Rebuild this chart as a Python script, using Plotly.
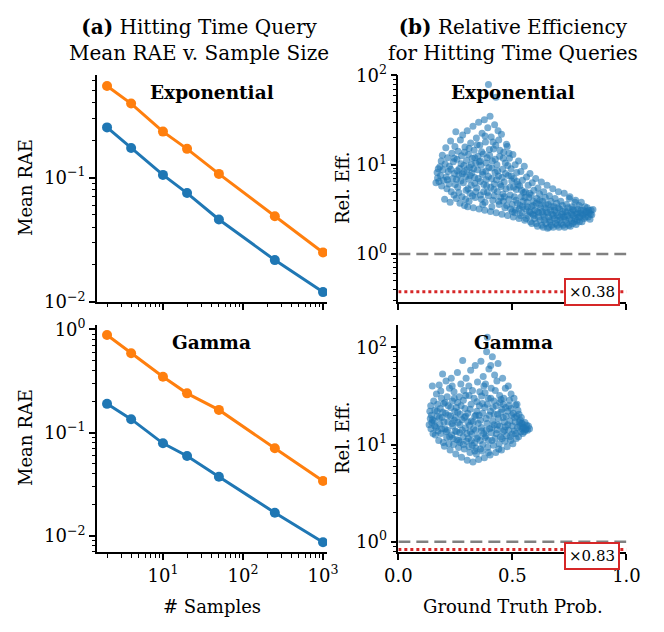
import math
import plotly.graph_objects as go
from plotly.subplots import make_subplots

# -----------------------------
# Data
# -----------------------------
samples = [2, 4, 10, 20, 50, 250, 1000]

exp_rae_blue = [0.253, 0.173, 0.105, 0.075, 0.046, 0.0217, 0.012]
exp_rae_orange = [0.545, 0.393, 0.234, 0.17, 0.107, 0.0488, 0.025]
gamma_rae_blue = [0.19, 0.135, 0.0788, 0.0594, 0.0374, 0.0168, 0.0087]
gamma_rae_orange = [0.88, 0.586, 0.348, 0.24, 0.166, 0.0705, 0.034]

exp_ratio = 0.38
gamma_ratio = 0.83

# (ground truth prob, relative efficiency)
exp_points = [
    (0.165, 6.3), (0.17, 8.2), (0.175, 9.0), (0.172, 7.1), (0.178, 6.5),
    (0.182, 9.5), (0.185, 7.6), (0.19, 5.8), (0.193, 12.8), (0.196, 8.8), (0.198, 6.7), (0.188, 11.0),
    (0.203, 4.1), (0.205, 10.2), (0.208, 15.5), (0.21, 7.3), (0.213, 5.4), (0.216, 12.0), (0.219, 8.4), (0.222, 6.1), (0.224, 9.6),
    (0.227, 3.8), (0.229, 18.5), (0.232, 5.0), (0.235, 13.5), (0.238, 7.0), (0.241, 10.8), (0.244, 4.6), (0.246, 8.0), (0.248, 16.0), (0.249, 6.0),
    (0.252, 23.5), (0.254, 4.2), (0.257, 11.5), (0.26, 5.6), (0.262, 14.2), (0.265, 7.7), (0.268, 9.1), (0.27, 3.7), (0.272, 19.0), (0.274, 6.6), (0.258, 8.6),
    (0.277, 12.6), (0.279, 4.4), (0.282, 21.5), (0.285, 6.3), (0.287, 9.8), (0.29, 3.5), (0.292, 15.8), (0.295, 7.4), (0.297, 5.2), (0.299, 11.2), (0.288, 8.3),
    (0.302, 24.0), (0.304, 3.4), (0.307, 13.0), (0.309, 6.9), (0.312, 9.4), (0.314, 4.8), (0.317, 17.5), (0.319, 5.9), (0.322, 8.1), (0.324, 11.8), (0.31, 3.9),
    (0.327, 27.0), (0.329, 3.3), (0.332, 14.5), (0.334, 7.2), (0.337, 4.3), (0.339, 10.5), (0.342, 20.0), (0.344, 5.5), (0.347, 8.8), (0.349, 12.5), (0.335, 6.2),
    (0.352, 30.0), (0.354, 3.2), (0.357, 16.5), (0.359, 6.5), (0.362, 9.9), (0.364, 4.1), (0.367, 22.5), (0.369, 7.8), (0.372, 13.2), (0.374, 5.0), (0.36, 11.0), (0.37, 3.6),
    (0.377, 32.0), (0.379, 3.1), (0.382, 18.0), (0.384, 8.5), (0.387, 5.8), (0.389, 12.0), (0.392, 26.0), (0.394, 4.5), (0.397, 9.3), (0.399, 14.8), (0.395, 79.0), (0.385, 6.8), (0.38, 3.8),
    (0.402, 35.0), (0.404, 3.0), (0.407, 20.5), (0.409, 7.0), (0.412, 11.0), (0.414, 4.0), (0.417, 15.0), (0.419, 5.3), (0.422, 28.0), (0.424, 8.2), (0.41, 3.4), (0.42, 6.1),
    (0.428, 57.0), (0.427, 16.5), (0.429, 2.9), (0.432, 10.0), (0.434, 5.0), (0.437, 24.0), (0.439, 7.5), (0.442, 3.6), (0.444, 12.5), (0.447, 6.0), (0.449, 4.3), (0.44, 19.0),
    (0.452, 22.0), (0.454, 2.8), (0.457, 8.9), (0.459, 4.7), (0.462, 13.8), (0.464, 6.4), (0.467, 3.3), (0.469, 10.5), (0.472, 5.4), (0.474, 17.0), (0.46, 3.9),
    (0.477, 16.0), (0.479, 2.7), (0.482, 7.6), (0.484, 4.1), (0.487, 11.8), (0.489, 5.6), (0.492, 3.2), (0.494, 9.0), (0.497, 6.6), (0.499, 3.6), (0.485, 13.5),
    (0.502, 13.0), (0.504, 2.6), (0.507, 7.0), (0.509, 4.4), (0.512, 10.0), (0.514, 3.1), (0.517, 5.3), (0.519, 8.2), (0.522, 3.7), (0.524, 6.0), (0.51, 2.9),
    (0.527, 11.0), (0.529, 2.5), (0.532, 5.8), (0.534, 3.5), (0.537, 8.4), (0.539, 4.4), (0.542, 2.9), (0.544, 6.7), (0.547, 3.9), (0.549, 4.9), (0.535, 2.7),
    (0.552, 9.6), (0.554, 2.4), (0.557, 5.0), (0.559, 3.2), (0.562, 7.3), (0.564, 3.8), (0.567, 2.7), (0.569, 5.9), (0.572, 4.3), (0.574, 3.0), (0.56, 2.5),
    (0.577, 8.0), (0.579, 2.3), (0.582, 4.6), (0.584, 3.4), (0.587, 6.3), (0.589, 2.8), (0.592, 3.9), (0.594, 5.2), (0.597, 2.5), (0.599, 3.1), (0.585, 2.2),
    (0.602, 7.0), (0.604, 2.2), (0.607, 4.2), (0.609, 3.0), (0.612, 5.5), (0.614, 2.6), (0.617, 3.6), (0.619, 4.7), (0.622, 2.4), (0.624, 3.3), (0.61, 2.05),
    (0.627, 6.4), (0.629, 2.1), (0.632, 3.9), (0.634, 2.8), (0.637, 5.0), (0.639, 2.4), (0.642, 3.3), (0.644, 4.3), (0.647, 2.2), (0.649, 3.0), (0.635, 2.0),
    (0.652, 5.9), (0.654, 1.95), (0.657, 3.6), (0.659, 2.6), (0.662, 4.5), (0.664, 2.3), (0.667, 3.1), (0.669, 3.9), (0.672, 2.1), (0.674, 2.8), (0.66, 2.0),
    (0.677, 5.4), (0.679, 2.0), (0.682, 3.4), (0.684, 2.5), (0.687, 4.2), (0.689, 2.2), (0.692, 2.9), (0.694, 3.7), (0.697, 2.1), (0.699, 2.7),
    (0.702, 5.0), (0.704, 2.0), (0.707, 3.2), (0.709, 2.4), (0.712, 3.9), (0.714, 2.2), (0.717, 2.8), (0.719, 3.5), (0.722, 2.1), (0.724, 2.6),
    (0.727, 4.8), (0.729, 2.0), (0.732, 3.0), (0.734, 2.4), (0.737, 3.6), (0.739, 2.2), (0.742, 2.7), (0.744, 3.3), (0.747, 2.1), (0.749, 4.2),
    (0.752, 4.4), (0.754, 2.05), (0.757, 2.9), (0.759, 2.4), (0.762, 3.4), (0.764, 2.2), (0.767, 2.7), (0.769, 3.1), (0.772, 2.3), (0.774, 3.8),
    (0.777, 4.0), (0.779, 2.15), (0.782, 2.8), (0.784, 2.4), (0.787, 3.2), (0.789, 2.6), (0.792, 3.5), (0.794, 2.3), (0.797, 2.9),
    (0.802, 3.8), (0.805, 2.3), (0.808, 2.7), (0.812, 3.1), (0.815, 2.5), (0.818, 3.4), (0.822, 2.9),
    (0.828, 3.3), (0.832, 2.6), (0.836, 2.9), (0.84, 2.45), (0.845, 3.1), (0.853, 3.15), (0.848, 2.75),
    # denser core
    (0.215, 6.8), (0.23, 8.9), (0.245, 11.8), (0.255, 6.9), (0.265, 4.9), (0.275, 10.3), (0.28, 7.9),
    (0.29, 13.8), (0.295, 4.1), (0.3, 8.8), (0.305, 5.4), (0.31, 15.2), (0.315, 7.6), (0.32, 10.1),
    (0.325, 4.5), (0.33, 9.0), (0.335, 12.0), (0.34, 5.0), (0.345, 16.8), (0.35, 7.0), (0.355, 10.8),
    (0.36, 4.6), (0.365, 14.0), (0.37, 8.3), (0.375, 6.0), (0.38, 21.0), (0.385, 10.5), (0.39, 4.9),
    (0.395, 7.4), (0.4, 12.8), (0.405, 5.6), (0.41, 9.2), (0.415, 18.0), (0.42, 4.5), (0.425, 11.5),
    (0.43, 6.8), (0.435, 8.5), (0.44, 3.9), (0.445, 14.5), (0.45, 5.7), (0.455, 7.2), (0.46, 11.8),
    (0.465, 4.4), (0.47, 8.0), (0.475, 3.5), (0.48, 9.8), (0.49, 4.6), (0.495, 7.5), (0.5, 3.0),
    (0.505, 5.6), (0.515, 4.0), (0.52, 6.5), (0.53, 3.2), (0.54, 5.2), (0.545, 3.4), (0.555, 4.3),
    (0.565, 3.4), (0.575, 4.8), (0.58, 2.9), (0.59, 3.5), (0.595, 2.7), (0.605, 3.7), (0.615, 2.9),
    (0.62, 4.0), (0.63, 3.0), (0.64, 2.6), (0.645, 3.6), (0.655, 2.9), (0.665, 2.4), (0.67, 3.4),
    (0.68, 2.7), (0.685, 3.1), (0.695, 2.4), (0.7, 3.3), (0.71, 2.6), (0.72, 3.0), (0.73, 2.6),
    (0.74, 3.0), (0.75, 2.5), (0.76, 2.8), (0.765, 3.2), (0.775, 2.5), (0.785, 2.9), (0.795, 2.6),
    (0.8, 3.1), (0.81, 2.8), (0.82, 2.6), (0.825, 3.0), (0.835, 3.1), (0.842, 2.8),
]

gamma_points = [
    (0.135, 16.0), (0.138, 22.0), (0.14, 18.5), (0.143, 14.5), (0.145, 20.0), (0.149, 40.0), (0.147, 16.8), (0.142, 25.0),
    (0.152, 13.0), (0.155, 28.0), (0.157, 17.5), (0.16, 22.5), (0.162, 12.5), (0.165, 15.0), (0.167, 33.0), (0.17, 19.5), (0.172, 26.0), (0.174, 13.8),
    (0.177, 11.0), (0.179, 41.0), (0.182, 16.2), (0.184, 23.5), (0.187, 13.0), (0.189, 30.0), (0.192, 19.0), (0.194, 53.0), (0.197, 10.5), (0.199, 26.5), (0.186, 35.5),
    (0.202, 9.6), (0.204, 14.5), (0.207, 21.0), (0.209, 45.0), (0.212, 11.8), (0.214, 31.0), (0.217, 17.0), (0.219, 25.0), (0.222, 10.2), (0.224, 38.0), (0.21, 13.5),
    (0.227, 8.8), (0.229, 19.5), (0.232, 48.0), (0.234, 12.5), (0.237, 28.0), (0.239, 15.5), (0.242, 10.0), (0.244, 35.0), (0.247, 22.0), (0.249, 13.8), (0.236, 40.0), (0.245, 17.8),
    (0.252, 8.0), (0.254, 24.0), (0.257, 11.2), (0.259, 55.0), (0.262, 16.8), (0.264, 9.3), (0.267, 31.0), (0.269, 13.2), (0.272, 20.5), (0.274, 42.0), (0.26, 27.0), (0.27, 10.5),
    (0.277, 7.4), (0.279, 18.0), (0.282, 73.0), (0.284, 12.0), (0.287, 36.0), (0.289, 9.0), (0.292, 23.5), (0.294, 14.8), (0.297, 48.0), (0.299, 10.8), (0.285, 28.5), (0.295, 19.5),
    (0.302, 6.9), (0.304, 21.0), (0.307, 11.5), (0.309, 40.0), (0.312, 15.8), (0.314, 8.3), (0.317, 58.0), (0.319, 26.0), (0.322, 12.8), (0.324, 9.8), (0.31, 32.0), (0.32, 17.5), (0.315, 13.5),
    (0.327, 6.6), (0.329, 17.0), (0.332, 30.0), (0.334, 10.4), (0.337, 65.0), (0.339, 14.0), (0.342, 8.0), (0.344, 22.0), (0.347, 44.0), (0.349, 12.0), (0.335, 19.5), (0.345, 27.5), (0.34, 9.2),
    (0.352, 7.0), (0.354, 20.0), (0.357, 35.0), (0.359, 11.0), (0.362, 72.0), (0.364, 15.0), (0.367, 8.6), (0.369, 26.5), (0.372, 50.0), (0.374, 13.0), (0.36, 17.8), (0.37, 10.0), (0.365, 31.5),
    (0.377, 7.3), (0.379, 24.0), (0.382, 42.0), (0.384, 12.2), (0.387, 90.0), (0.389, 16.5), (0.39, 127.0), (0.392, 9.4), (0.394, 30.0), (0.397, 60.0), (0.399, 20.0), (0.385, 14.0), (0.395, 11.0), (0.38, 34.0),
    (0.402, 7.8), (0.404, 22.0), (0.407, 38.0), (0.409, 13.2), (0.412, 80.0), (0.414, 17.5), (0.417, 9.8), (0.419, 28.0), (0.422, 52.0), (0.424, 11.5), (0.41, 15.0), (0.42, 20.5), (0.405, 65.0),
    (0.427, 8.3), (0.429, 25.0), (0.432, 45.0), (0.434, 14.2), (0.437, 68.0), (0.439, 18.5), (0.442, 10.2), (0.444, 32.0), (0.447, 12.0), (0.449, 21.5), (0.435, 16.0), (0.445, 27.0),
    (0.452, 8.8), (0.454, 23.0), (0.457, 48.0), (0.459, 13.5), (0.462, 30.0), (0.464, 17.0), (0.467, 10.8), (0.469, 38.0), (0.472, 19.5), (0.474, 12.3), (0.46, 26.0), (0.47, 15.2),
    (0.477, 9.5), (0.479, 22.0), (0.482, 40.0), (0.484, 14.0), (0.487, 28.5), (0.489, 17.5), (0.492, 11.0), (0.494, 33.0), (0.497, 20.0), (0.499, 12.8), (0.485, 25.0),
    (0.502, 10.2), (0.504, 21.0), (0.507, 30.0), (0.509, 13.8), (0.512, 17.0), (0.514, 25.5), (0.517, 11.5), (0.519, 19.5), (0.522, 15.0), (0.524, 22.5),
    (0.527, 12.0), (0.529, 20.5), (0.532, 15.5), (0.534, 17.8), (0.537, 13.5), (0.539, 19.0), (0.542, 14.5), (0.544, 16.5), (0.547, 15.0),
    (0.552, 13.5), (0.555, 16.8), (0.558, 14.2), (0.562, 15.8), (0.566, 14.0), (0.57, 15.5), (0.575, 14.5),
    # denser core
    (0.15, 18.0), (0.16, 15.5), (0.17, 22.0), (0.18, 18.8), (0.19, 14.5), (0.195, 21.5), (0.2, 17.0),
    (0.205, 27.0), (0.215, 14.0), (0.22, 20.0), (0.225, 12.0), (0.23, 24.0), (0.235, 16.5), (0.24, 11.5),
    (0.245, 30.0), (0.25, 19.0), (0.255, 13.5), (0.26, 21.5), (0.265, 11.0), (0.27, 16.0), (0.275, 25.0),
    (0.28, 14.0), (0.285, 10.0), (0.29, 19.0), (0.295, 32.0), (0.3, 13.0), (0.305, 17.0), (0.31, 9.5),
    (0.315, 23.0), (0.32, 11.0), (0.325, 36.0), (0.33, 14.5), (0.335, 8.6), (0.34, 20.0), (0.345, 11.5),
    (0.35, 16.5), (0.355, 25.0), (0.36, 9.0), (0.365, 13.8), (0.37, 21.0), (0.375, 40.0), (0.38, 11.8),
    (0.385, 18.5), (0.39, 26.0), (0.395, 8.3), (0.4, 14.5), (0.405, 30.0), (0.41, 11.0), (0.415, 24.0),
    (0.42, 16.0), (0.425, 36.0), (0.43, 13.0), (0.435, 20.5), (0.44, 9.0), (0.445, 15.5), (0.45, 29.0),
    (0.455, 11.5), (0.46, 19.0), (0.465, 14.0), (0.47, 24.0), (0.48, 16.0), (0.49, 12.0), (0.495, 23.5),
    (0.5, 15.5), (0.51, 19.0), (0.515, 13.0), (0.52, 26.0), (0.53, 17.0), (0.54, 16.5), (0.545, 13.0),
    (0.55, 15.0), (0.56, 14.5),
]

BLUE = "#1f77b4"
ORANGE = "#ff7f0e"
RED = "#d62728"
FONT = "DejaVu Serif"

# -----------------------------
# Helpers
# -----------------------------

def pow10(n):
    return "10<sup>" + ("\u2212" if n < 0 else "") + str(abs(n)) + "</sup>"


def axis_style(**kw):
    base = dict(showline=True, linecolor="black", linewidth=1.5, mirror=False,
                ticks="outside", ticklen=6, tickwidth=1.5, tickcolor="black",
                showgrid=False, zeroline=False, automargin=False,
                tickfont=dict(family=FONT, size=18, color="black"))
    base.update(kw)
    return base


def log_minor():
    return dict(ticks="outside", ticklen=3.5, tickwidth=1, tickcolor="black",
                dtick="D1", showgrid=False)


def add_rae_panel(fig, row, blue, orange):
    for vals, color in [(blue, BLUE), (orange, ORANGE)]:
        fig.add_trace(go.Scatter(x=samples, y=vals, mode="lines+markers",
                                 line=dict(color=color, width=3),
                                 marker=dict(color=color, size=10)),
                      row=row, col=1)


def add_eff_panel(fig, row, points, ratio):
    fig.add_trace(go.Scatter(x=[p[0] for p in points], y=[p[1] for p in points],
                             mode="markers",
                             marker=dict(color=BLUE, size=7, opacity=0.6, line=dict(width=0))),
                  row=row, col=2)
    fig.add_trace(go.Scatter(x=[0, 1], y=[1, 1], mode="lines",
                             line=dict(color="gray", width=2.5, dash="12px,6px")),
                  row=row, col=2)
    fig.add_trace(go.Scatter(x=[0, 1], y=[ratio, ratio], mode="lines",
                             line=dict(color=RED, width=3, dash="dot")),
                  row=row, col=2)


# -----------------------------
# Build figure
# -----------------------------

def build():
    fig = make_subplots(rows=2, cols=2)
    add_rae_panel(fig, 1, exp_rae_blue, exp_rae_orange)
    add_rae_panel(fig, 2, gamma_rae_blue, gamma_rae_orange)
    add_eff_panel(fig, 1, exp_points, exp_ratio)
    add_eff_panel(fig, 2, gamma_points, gamma_ratio)

    xl = [0.146, 0.4925]
    xr = [0.5999, 0.9435]
    yt = [0.5222, 0.8813]
    yb = [0.1261, 0.4858]

    samp_ticks = dict(type="log", range=[0.175, 3.05], tickvals=[10, 100, 1000],
                      ticktext=[pow10(1), pow10(2), pow10(3)], minor=log_minor())
    prob_ticks = dict(range=[0, 1], tickvals=[0, 0.5, 1], ticktext=["0.0", "0.5", "1.0"])

    fig.update_layout(
        xaxis=axis_style(domain=xl, showticklabels=False, **samp_ticks),
        xaxis3=axis_style(domain=xl, **samp_ticks),
        xaxis2=axis_style(domain=xr, showticklabels=False, **prob_ticks),
        xaxis4=axis_style(domain=xr, **prob_ticks),
        yaxis=axis_style(domain=yt, type="log", range=[-2, -0.176], tickvals=[0.01, 0.1],
                         ticktext=[pow10(-2), pow10(-1)], minor=log_minor()),
        yaxis3=axis_style(domain=yb, type="log", range=[-2.158, 0.042], tickvals=[0.01, 0.1, 1],
                          ticktext=[pow10(-2), pow10(-1), pow10(0)], minor=log_minor()),
        yaxis2=axis_style(domain=yt, type="log", range=[-0.536, 2.005], tickvals=[1, 10, 100],
                          ticktext=[pow10(0), pow10(1), pow10(2)], minor=log_minor()),
        yaxis4=axis_style(domain=yb, type="log", range=[-0.109, 2.23], tickvals=[1, 10, 100],
                          ticktext=[pow10(0), pow10(1), pow10(2)], minor=log_minor()),
    )

    W, H = 664, 632
    ann = []
    # column titles
    ann.append(dict(text="<b>(a)</b> Hitting Time Query<br>Mean RAE v. Sample Size",
                    x=199 / W, y=1 - 40 / H, font=dict(size=20)))
    ann.append(dict(text="<b>(b)</b> Relative Efficiency<br>for Hitting Time Queries",
                    x=512.5 / W, y=1 - 40 / H, font=dict(size=20)))
    # panel labels
    for name, yy in [("Exponential", 92), ("Gamma", 342)]:
        for xx in (212, 513):
            ann.append(dict(text="<b>" + name + "</b>", x=xx / W, y=1 - yy / H,
                            font=dict(size=18.5)))
    # axis titles
    for yy in (188, 438):
        ann.append(dict(text="Mean RAE", x=25 / W, y=1 - yy / H, textangle=-90, font=dict(size=18)))
        ann.append(dict(text="Rel. Eff.", x=342 / W, y=1 - yy / H, textangle=-90, font=dict(size=18)))
    ann.append(dict(text="# Samples", x=212 / W, y=1 - 606 / H, font=dict(size=18)))
    ann.append(dict(text="Ground Truth Prob.", x=512.5 / W, y=1 - 606 / H, font=dict(size=18)))
    for a in ann:
        a.update(xref="paper", yref="paper", showarrow=False,
                 xanchor="center", yanchor="middle")
        a["font"].update(family=FONT, color="black")

    # ratio boxes
    for ratio, xr_, yr_, shift in [(exp_ratio, "x2", "y2", 0), (gamma_ratio, "x4", "y4", -6)]:
        ann.append(dict(text="\u00d7" + f"{ratio:.2f}", x=0.85, y=math.log10(ratio),
                        xref=xr_, yref=yr_, yshift=shift, showarrow=False,
                        font=dict(family=FONT, size=15, color="black"),
                        bgcolor="white", bordercolor=RED, borderwidth=2, borderpad=3))

    fig.update_layout(annotations=ann, width=W, height=H,
                      margin=dict(l=0, r=0, t=0, b=0, autoexpand=False),
                      plot_bgcolor="white", paper_bgcolor="white",
                      showlegend=False, font=dict(family=FONT, color="black"))
    return fig


if __name__ == "__main__":
    fig = build()
    fig.write_html("out.html", config={"displayModeBar": False},
                   post_script="document.body.style.margin='0';")
